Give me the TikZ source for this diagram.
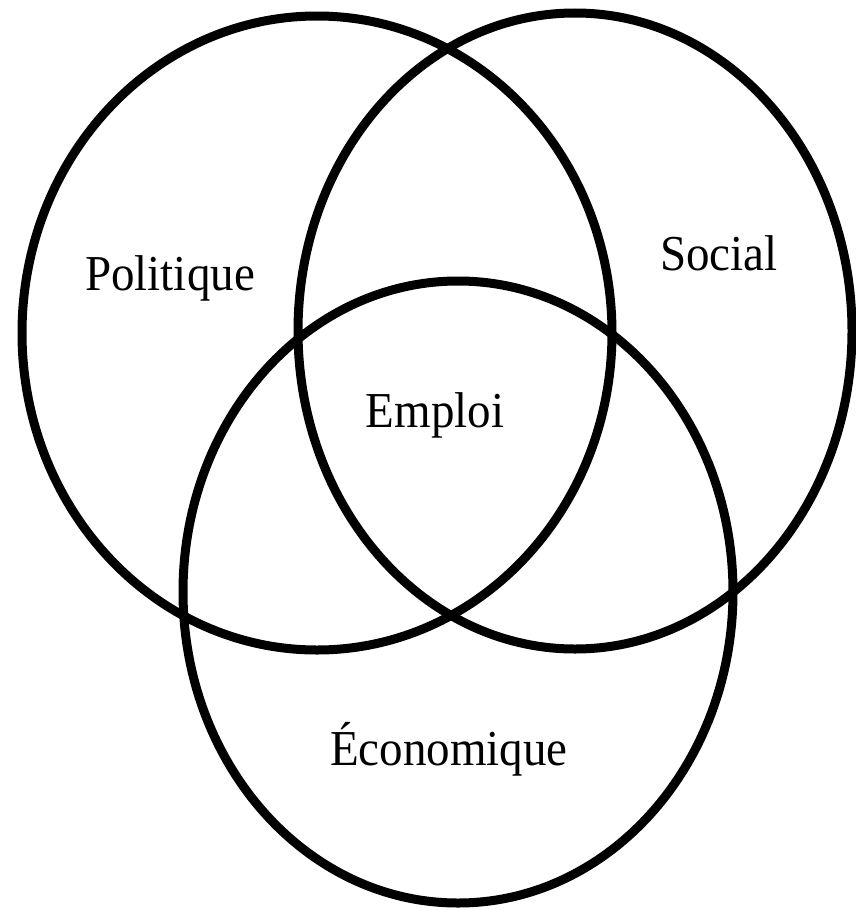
\documentclass[tikz,border=0pt]{standalone}
\usepackage{fontspec}
\setmainfont{Liberation Serif}
\begin{document}
\begin{tikzpicture}[x=1pt,y=-1pt,
  ring/.style={draw=black,line width=9pt},
  lbl/.style={anchor=base,inner sep=0pt,font=\fontsize{47}{50}\selectfont,yscale=1.07,transform shape}]
\useasboundingbox (0,0) rectangle (856,910);
\draw[ring] (317,333) ellipse [x radius=295, y radius=317];
\draw[ring] (575,331) ellipse [x radius=277, y radius=318];
\draw[ring] (458,592) ellipse [x radius=275, y radius=311];
\node[lbl] (pol) at (170,290) {Politique};
\node[lbl] (soc) at (719,270) {Social};
\node[lbl] (emp) at (435,427) {Emploi};
\node[lbl] (eco) at (449,765) {Économique};
\end{tikzpicture}
\end{document}
